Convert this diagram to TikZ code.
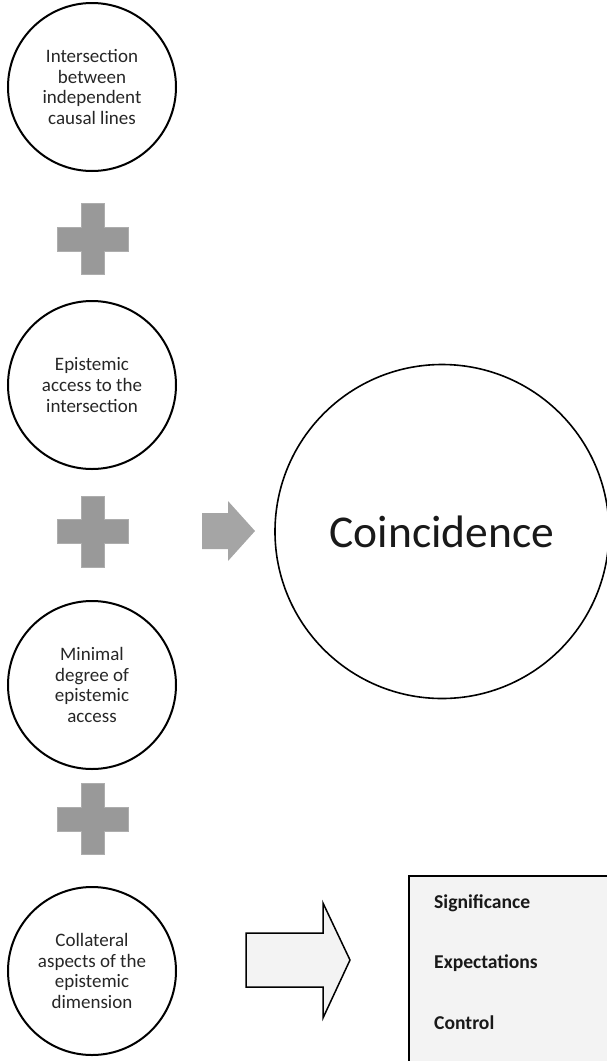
\documentclass[tikz,border=0pt]{standalone}
\usepackage{fontspec}
\setmainfont{Carlito}
\definecolor{plusgray}{HTML}{999999}
\definecolor{arrowgray}{HTML}{A5A5A5}
\definecolor{boxfill}{HTML}{F3F3F3}
\tikzset{
  smallcirc/.style={circle, draw=black, line width=2pt, minimum size=168pt, inner sep=0pt, align=center, font=\fontsize{19}{20.7}\selectfont, text=black!85},
  bigcirc/.style={circle, draw=black, line width=1.6pt, minimum size=334pt, inner sep=0pt, font=\fontsize{45.5}{50}\selectfont, text=black!90},
  listitem/.style={anchor=base west, inner sep=0pt, font=\fontsize{19.6}{22}\selectfont\bfseries, text=black!90},
  plussign/.pic={
    \fill[plusgray, draw=plusgray!80!white, line width=0.5pt]
      (-11.5,-35.5) -- (11.5,-35.5) -- (11.5,-12) -- (35.5,-12) -- (35.5,12) -- (11.5,12)
      -- (11.5,35.5) -- (-11.5,35.5) -- (-11.5,12) -- (-35.5,12) -- (-35.5,-12) -- (-11.5,-12) -- cycle;
  }
}
\begin{document}
\begin{tikzpicture}[x=1pt,y=-1pt]
\useasboundingbox (0,0) rectangle (607,1061);
\clip (0,0) rectangle (607,1061);
\node[smallcirc] (c1) at (92,87) {Intersection\\between\\independent\\causal lines};
\node[smallcirc] (c2) at (92,385) {Epistemic\\access to the\\intersection};
\node[smallcirc] (c3) at (92,685) {Minimal\\degree of\\epistemic\\access};
\node[smallcirc] (c4) at (92,971) {Collateral\\aspects of the\\epistemic\\dimension};
\pic at (92.5,239) {plussign};
\pic at (92.5,531.5) {plussign};
\pic at (92.5,819) {plussign};
\fill[arrowgray] (202,513) -- (228,513) -- (228,501) -- (255,531) -- (228,561) -- (228,549) -- (202,549) -- cycle;
\node[bigcirc] (co) at (442,531.5) {Coincidence};
\draw[fill=boxfill, line width=1.5pt, line join=miter] (246,933) -- (323,933) -- (323,903) -- (350,960) -- (323,1018) -- (323,987) -- (246,987) -- cycle;
\fill[boxfill] (409,876) rectangle (620,1080);
\draw[line width=1.5pt] (409,1080) -- (409,876) -- (620,876);
\node[listitem] (s1) at (434,908) {Significance};
\node[listitem] (s2) at (434,968) {Expectations};
\node[listitem] (s3) at (434,1029) {Control};
\end{tikzpicture}
\end{document}
